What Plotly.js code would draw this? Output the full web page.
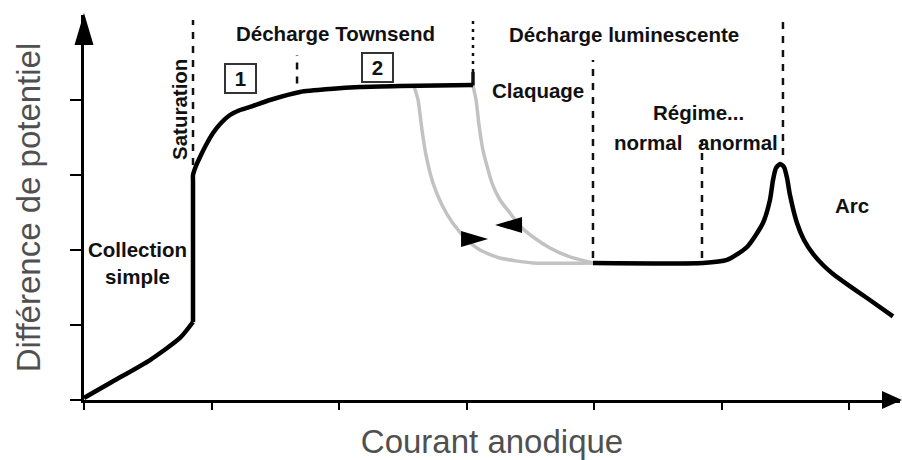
<!DOCTYPE html>
<html>
<head>
<meta charset="utf-8">
<script src="https://cdn.plot.ly/plotly-3.0.1.min.js"></script>
<style>
  html, body { margin: 0; padding: 0; background: #fff; }
  #chart { width: 902px; height: 460px; }
</style>
</head>
<body>
<div id="chart"></div>
<script>
// Collection simple
const collectionX = [0.000, 0.204, 0.518, 0.753, 0.855];
const collectionY = [0.027, 0.227, 0.533, 0.827, 1.040];

// Saturation puis décharge Townsend
const townsendX = [0.855, 0.855, 0.855, 0.878, 0.910, 0.957, 1.012, 1.075, 1.145, 1.224, 1.302, 1.459, 1.694, 1.929, 2.165, 2.478, 3.051];
const townsendY = [1.040, 2.900, 3.000, 3.120, 3.240, 3.400, 3.560, 3.693, 3.800, 3.867, 3.907, 4.000, 4.107, 4.147, 4.173, 4.187, 4.200];

// Claquage : deux courbes grises
const grayLeftX = [2.588, 2.620, 2.651, 2.682, 2.737, 2.808, 2.886, 3.004, 3.106, 3.263, 3.522, 3.992];
const grayLeftY = [4.187, 4.000, 3.600, 3.267, 2.893, 2.600, 2.373, 2.133, 2.000, 1.893, 1.827, 1.827];
const grayRightX = [3.051, 3.075, 3.098, 3.129, 3.200, 3.263, 3.341, 3.420, 3.522, 3.655, 3.812, 3.992];
const grayRightY = [4.187, 4.000, 3.667, 3.333, 2.893, 2.667, 2.493, 2.320, 2.173, 2.027, 1.907, 1.827];

// Décharge luminescente (normal, anormal) et arc
const glowX = [3.992, 4.855, 5.043, 5.200, 5.325, 5.380, 5.404, 5.427, 5.459, 5.490, 5.514, 5.537, 5.592, 5.647, 5.718, 5.796, 5.875, 5.992, 6.141, 6.345];
const glowY = [1.827, 1.827, 1.867, 2.040, 2.360, 2.667, 2.933, 3.093, 3.147, 3.107, 2.960, 2.733, 2.360, 2.133, 1.947, 1.800, 1.680, 1.535, 1.360, 1.115];

// Frontières entre régimes
const boundaryX  = [0.855, 1.671, 3.051, 3.992, 4.847, 5.482, 3.051];
const boundaryY0 = [3.133, 4.220, 4.373, 1.893, 1.893, 3.267, 4.190];
const boundaryY1 = [5.067, 4.600, 5.067, 4.533, 3.467, 5.067, 4.373];
const boundaryStyle = ['dash', 'dash', 'dot', 'dash', 'dash', 'dash', 'solid'];

const xTicks = [0, 1, 2, 3, 4, 5, 6];
const yTicks = [0, 1, 2, 3, 4];

const FONT = 'Liberation Sans, Arial, Helvetica, sans-serif';

const blackLine = { color: '#000', width: 4.5, shape: 'spline', smoothing: 0.6 };
const grayLine = { color: '#c2c2c2', width: 3.5, shape: 'spline', smoothing: 0.6 };

const traces = [
  { x: grayLeftX, y: grayLeftY, mode: 'lines', line: grayLine, hoverinfo: 'skip' },
  { x: grayRightX, y: grayRightY, mode: 'lines', line: grayLine, hoverinfo: 'skip' },
  { x: collectionX, y: collectionY, mode: 'lines', line: blackLine, hoverinfo: 'skip' },
  { x: townsendX, y: townsendY, mode: 'lines', line: blackLine, hoverinfo: 'skip' },
  { x: glowX, y: glowY, mode: 'lines', line: blackLine, hoverinfo: 'skip' }
];

const dashMap = { dash: '7px,7px', dot: '3px,5px', solid: 'solid' };
const shapes = boundaryX.map((bx, i) => ({
  type: 'line', xref: 'x', yref: 'y',
  x0: bx, x1: bx, y0: boundaryY0[i], y1: boundaryY1[i],
  line: { color: '#111', width: boundaryStyle[i] === 'solid' ? 3.5 : 2.5, dash: dashMap[boundaryStyle[i]] },
  layer: 'below'
}));

// pointes de flèche des axes
shapes.push({
  type: 'path', xref: 'paper', yref: 'paper', xsizemode: 'pixel', ysizemode: 'pixel',
  xanchor: 1, yanchor: 0, path: 'M -18,9 L 2,0 L -18,-9 Z',
  fillcolor: '#000', line: { width: 0 }
});
shapes.push({
  type: 'path', xref: 'paper', yref: 'paper', xsizemode: 'pixel', ysizemode: 'pixel',
  xanchor: 0, yanchor: 1, path: 'M -9.5,-30 L 0,2 L 9.5,-30 Z',
  fillcolor: '#000', line: { width: 0 }
});
// flèches sur les courbes grises
shapes.push({
  type: 'path', xref: 'x', yref: 'y', xsizemode: 'pixel', ysizemode: 'pixel',
  xanchor: 3.169, yanchor: 2.147, path: 'M -27,8 L 0,0 L -27,-8 Z',
  fillcolor: '#000', line: { width: 0 }
});
shapes.push({
  type: 'path', xref: 'x', yref: 'y', xsizemode: 'pixel', ysizemode: 'pixel',
  xanchor: 3.224, yanchor: 2.333, path: 'M 27,8 L 0,0 L 27,-8 Z',
  fillcolor: '#000', line: { width: 0 }
});

const lab = (text, x, y, extra) => Object.assign({
  text: text, x: x, y: y, xref: 'x', yref: 'y', showarrow: false,
  font: { family: FONT, size: 20.5, color: '#111', weight: 'bold' },
  xanchor: 'center', yanchor: 'middle'
}, extra || {});

const annotations = [
  lab('Décharge Townsend', 1.976, 4.893),
  lab('Décharge luminescente', 4.235, 4.867),
  lab('Claquage', 3.561, 4.133),
  lab('Régime...', 4.816, 3.827),
  lab('normal', 4.424, 3.44),
  lab('anormal', 5.129, 3.44),
  lab('Arc', 6.024, 2.6),
  lab('Collection<br>simple', 0.416, 1.827),
  lab('Saturation', 0.753, 3.867, { textangle: -90 }),
  lab('1', 1.224, 4.293, { bordercolor: '#333', borderwidth: 2, width: 27, height: 25, bgcolor: '#fff' }),
  lab('2', 2.298, 4.44, { bordercolor: '#333', borderwidth: 2, width: 27, height: 25, bgcolor: '#fff' })
];

const layout = {
  width: 902, height: 460,
  margin: { l: 84, r: 2, t: 15, b: 60 },
  paper_bgcolor: '#fff', plot_bgcolor: '#fff',
  showlegend: false,
  xaxis: {
    range: [0, 6.4], showgrid: false, zeroline: false,
    showline: true, linecolor: '#000', linewidth: 3,
    ticks: 'outside', tickvals: xTicks, ticklen: 7, tickwidth: 2, tickcolor: '#000',
    showticklabels: false, fixedrange: true,
    title: { text: 'Courant anodique', font: { family: FONT, size: 33, color: '#505050' }, standoff: 25 }
  },
  yaxis: {
    range: [0, 5.1333], showgrid: false, zeroline: false,
    showline: true, linecolor: '#000', linewidth: 3,
    ticks: 'outside', tickvals: yTicks, ticklen: 11, tickwidth: 2, tickcolor: '#000',
    showticklabels: false, fixedrange: true,
    title: { text: 'Différence de potentiel', font: { family: FONT, size: 33, color: '#505050' }, standoff: 20 }
  },
  shapes: shapes,
  annotations: annotations
};

Plotly.newPlot('chart', traces, layout, { displayModeBar: false, staticPlot: true });
</script>
</body>
</html>
